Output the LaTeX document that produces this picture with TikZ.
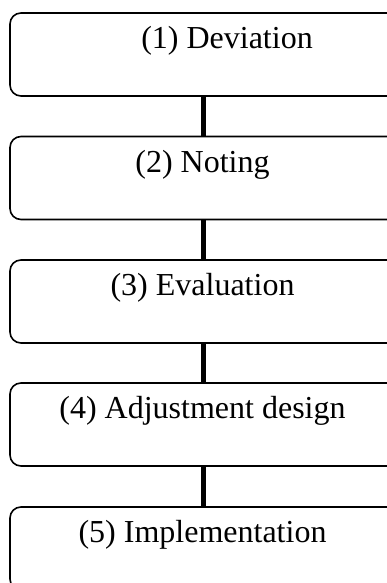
\documentclass[tikz,border=0pt]{standalone}
\usepackage{fontspec}
\setmainfont{Liberation Serif}
\begin{document}
\begin{tikzpicture}[x=1pt,y=-1pt,
  stepbox/.style={draw=black,line width=1.6pt,rounded corners=11pt,
    minimum width=420pt,minimum height=83pt,inner sep=0pt},
  steptext/.style={anchor=base,inner sep=0pt,font=\fontsize{32}{38}\selectfont},
  link/.style={line width=5pt}]
\useasboundingbox (0,0) rectangle (387,583);
\clip (0,0) rectangle (387,583);
\coordinate (c) at (203.5,0);
\node[stepbox] (b1) at (220,54.5) {};
\node[stepbox] (b2) at (220,178) {};
\node[stepbox] (b3) at (220,301.5) {};
\node[stepbox] (b4) at (220,424.5) {};
\node[stepbox] (b5) at (220,548.5) {};
\node[steptext] (t1) at (227,49) {(1) Deviation};
\node[steptext] (t2) at (202.5,172) {(2) Noting};
\node[steptext] (t3) at (202.5,295) {(3) Evaluation};
\node[steptext] (t4) at (202.5,418) {(4) Adjustment design};
\node[steptext] (t5) at (202.5,542) {(5) Implementation};
\draw[link] (b1.south -| c) -- (b2.north -| c);
\draw[link] (b2.south -| c) -- (b3.north -| c);
\draw[link] (b3.south -| c) -- (b4.north -| c);
\draw[link] (b4.south -| c) -- (b5.north -| c);
\end{tikzpicture}
\end{document}
